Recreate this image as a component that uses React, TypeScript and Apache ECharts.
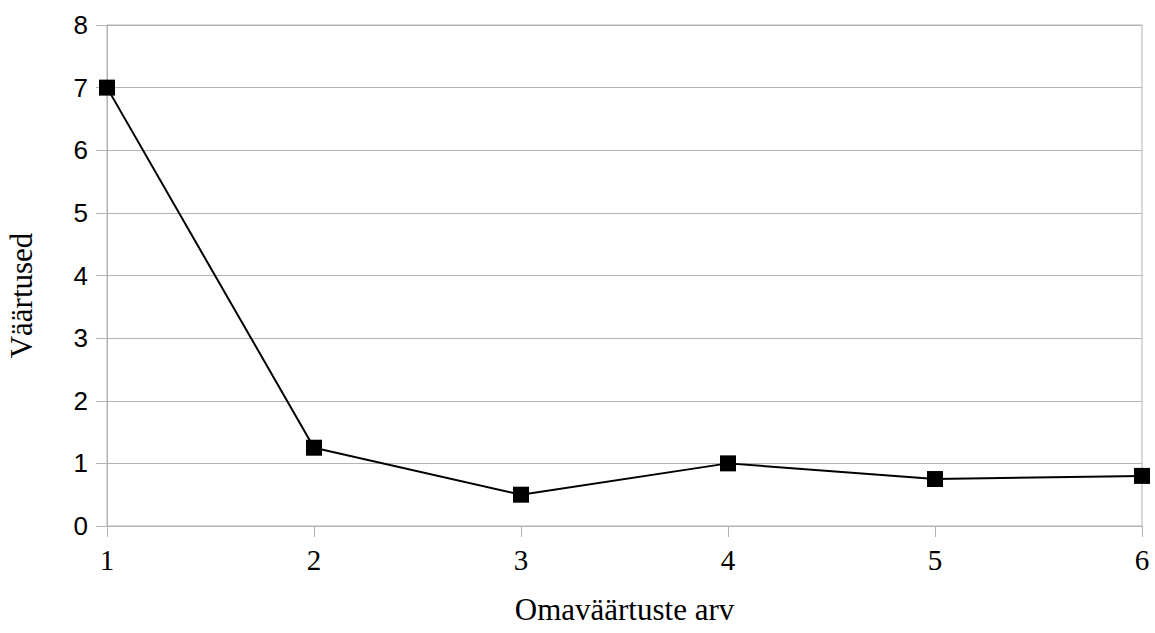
import React, { useEffect, useRef } from "react";
import * as echarts from "echarts";

const categories = ["1", "2", "3", "4", "5", "6"];
const values = [7, 1.25, 0.5, 1.0, 0.75, 0.8];
const xTitle = "Omaväärtuste arv";
const yTitle = "Väärtused";

export default function App() {
  const ref = useRef<HTMLDivElement>(null);
  useEffect(() => {
    const chart = echarts.init(ref.current!, null, { renderer: "svg" });
    chart.setOption({
      animation: false,
      backgroundColor: "#ffffff",
      grid: {
        left: 107,
        right: 13,
        top: 25,
        bottom: 107,
        containLabel: false,
        outerBoundsMode: "none",
        show: true,
        borderColor: "#b3b3b3",
        borderWidth: 1,
      },
      xAxis: {
        type: "category",
        data: categories,
        boundaryGap: false,
        name: xTitle,
        nameLocation: "middle",
        nameGap: 68,
        nameTextStyle: { fontFamily: "Liberation Serif", fontSize: 31, color: "#000" },
        axisLine: { show: true, lineStyle: { color: "#b3b3b3", width: 1 } },
        axisTick: { show: true, length: 11, lineStyle: { color: "#b3b3b3" } },
        axisLabel: { fontFamily: "Liberation Serif", fontSize: 29, color: "#000", margin: 19 },
        splitLine: { show: false },
      },
      yAxis: {
        type: "value",
        min: 0,
        max: 8,
        interval: 1,
        name: yTitle,
        nameLocation: "middle",
        nameGap: 70,
        nameRotate: 90,
        nameTextStyle: {
          fontFamily: "Liberation Serif",
          fontSize: 31,
          color: "#000",
          padding: [0, 40, 0, 0],
        },
        axisLine: { show: true, lineStyle: { color: "#b3b3b3", width: 1 } },
        axisTick: { show: true, length: 11, lineStyle: { color: "#b3b3b3" } },
        axisLabel: { fontFamily: "Liberation Sans", fontSize: 26, color: "#000", margin: 19 },
        splitLine: { show: true, lineStyle: { color: "#b3b3b3", width: 1 } },
      },
      series: [
        {
          type: "line",
          data: values,
          symbol: "rect",
          symbolSize: 16,
          itemStyle: { color: "#000" },
          lineStyle: { color: "#000", width: 2 },
        },
      ],
    });
    return () => chart.dispose();
  }, []);
  return (
    <div
      ref={ref}
      style={{ position: "absolute", left: 0, top: 0, width: 1155, height: 633 }}
    />
  );
}
